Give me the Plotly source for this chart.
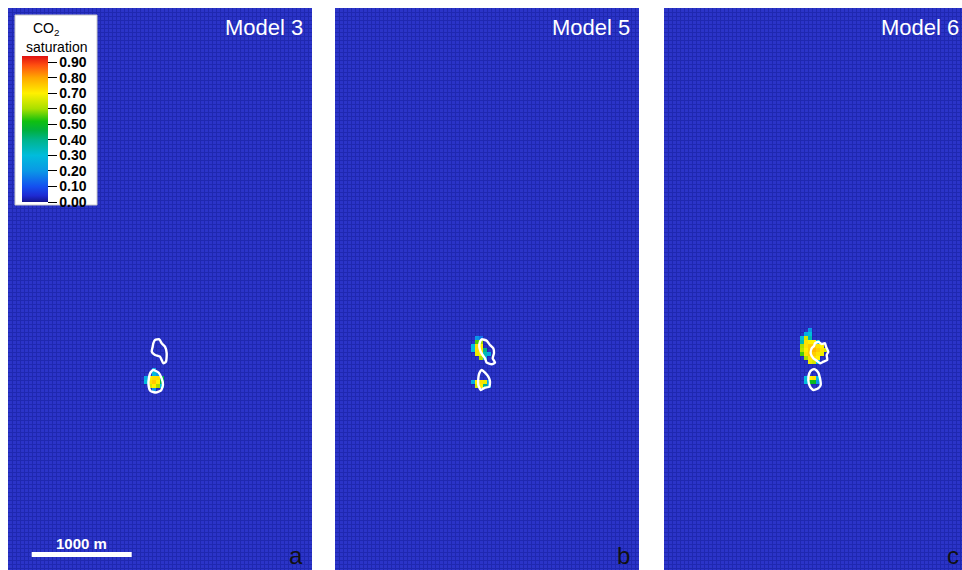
import numpy as np
import plotly.graph_objects as go

# ---------------- data ----------------
CELL_M = 40          # grid cell size (m)
N_COLS = 76
N_ROWS = 141

MODEL_NAMES = ["Model 3", "Model 5", "Model 6"]
PANEL_LETTERS = ["a", "b", "c"]

SAT_TICKS = [0.0, 0.1, 0.2, 0.3, 0.4, 0.5, 0.6, 0.7, 0.8, 0.9]
SAT_TICK_LABELS = ["0.00", "0.10", "0.20", "0.30", "0.40", "0.50", "0.60", "0.70", "0.80", "0.90"]
SAT_MIN = 0.0
SAT_MAX = 0.94

# plume cells: (row, col, CO2 saturation)
MODEL3_CELLS = [
    (90, 36, 0.25),
    (91, 36, 0.30), (91, 37, 0.20),
    (92, 34, 0.25), (92, 35, 0.70), (92, 36, 0.72), (92, 37, 0.72), (92, 38, 0.45),
    (93, 34, 0.30), (93, 35, 0.72), (93, 36, 0.75), (93, 37, 0.70), (93, 38, 0.45),
    (94, 35, 0.65), (94, 36, 0.70), (94, 37, 0.60), (94, 38, 0.30),
    (95, 36, 0.20),
]
MODEL5_CELLS = [
    (82, 35, 0.20), (82, 36, 0.15),
    (83, 35, 0.55), (83, 36, 0.60),
    (84, 34, 0.30), (84, 35, 0.72), (84, 36, 0.70),
    (85, 34, 0.30), (85, 35, 0.72), (85, 36, 0.72), (85, 37, 0.40),
    (86, 35, 0.68), (86, 36, 0.70), (86, 37, 0.35), (86, 38, 0.25),
    (87, 36, 0.60), (87, 37, 0.25),
    (93, 34, 0.25), (93, 35, 0.70), (93, 36, 0.72), (93, 37, 0.68), (93, 38, 0.25),
    (94, 35, 0.65), (94, 36, 0.70), (94, 37, 0.40), (94, 38, 0.20),
]
MODEL6_CELLS = [
    (80, 36, 0.20),
    (81, 35, 0.25), (81, 36, 0.30),
    (82, 34, 0.30), (82, 35, 0.65), (82, 36, 0.35),
    (83, 34, 0.35), (83, 35, 0.72), (83, 36, 0.70), (83, 37, 0.70), (83, 38, 0.30),
    (84, 34, 0.60), (84, 35, 0.72), (84, 36, 0.75), (84, 37, 0.75), (84, 38, 0.72), (84, 39, 0.70),
    (85, 34, 0.62), (85, 35, 0.70), (85, 36, 0.75), (85, 37, 0.78), (85, 38, 0.75), (85, 39, 0.72), (85, 40, 0.65),
    (86, 34, 0.55), (86, 35, 0.72), (86, 36, 0.75), (86, 37, 0.75), (86, 38, 0.72), (86, 39, 0.68),
    (87, 35, 0.60), (87, 36, 0.72), (87, 37, 0.72), (87, 38, 0.70),
    (88, 36, 0.68), (88, 37, 0.65), (88, 38, 0.30),
    (92, 35, 0.30), (92, 36, 0.70), (92, 37, 0.72), (92, 38, 0.30),
    (93, 35, 0.30), (93, 36, 0.50), (93, 37, 0.50), (93, 38, 0.20),
]

# white outlines (m)
M3_UP_X = [1470, 1513, 1537, 1570, 1587, 1580, 1553, 1520, 1470, 1437, 1447, 1453, 1470]
M3_UP_Y = [3320, 3313, 3353, 3387, 3453, 3537, 3553, 3487, 3470, 3437, 3387, 3353, 3320]
M3_LO_X = [1453, 1505, 1535, 1550, 1530, 1480, 1425, 1405, 1410, 1425, 1453]
M3_LO_Y = [3620, 3645, 3700, 3770, 3825, 3845, 3830, 3770, 3695, 3645, 3620]
M5_UP_X = [1467, 1517, 1550, 1583, 1590, 1577, 1600, 1567, 1517, 1500, 1483, 1457, 1443, 1450, 1467]
M5_UP_Y = [3313, 3327, 3370, 3403, 3453, 3503, 3547, 3563, 3547, 3503, 3480, 3437, 3387, 3337, 3313]
M5_LO_X = [1467, 1500, 1533, 1550, 1543, 1500, 1457, 1433, 1433, 1443, 1467]
M5_LO_Y = [3620, 3647, 3687, 3737, 3787, 3797, 3820, 3770, 3703, 3653, 3620]
M6_UP_X = [1510, 1543, 1577, 1610, 1620, 1643, 1627, 1633, 1593, 1560, 1527, 1493, 1467, 1477, 1500, 1510]
M6_UP_Y = [3353, 3337, 3360, 3353, 3387, 3437, 3470, 3520, 3537, 3553, 3527, 3503, 3453, 3403, 3380, 3353]
M6_LO_X = [1477, 1510, 1543, 1560, 1567, 1543, 1493, 1460, 1443, 1453, 1477]
M6_LO_Y = [3620, 3613, 3647, 3703, 3770, 3803, 3820, 3787, 3720, 3653, 3620]

SCALE_BAR_X0 = 237
SCALE_BAR_LEN = 1000
SCALE_BAR_LABEL = "1000 m"

# ---------------- styling / geometry ----------------
W, H = 962, 570
BG_BLUE = "#2b34c8"
GRID_BLUE = "#1f28b0"
FONT = "Arial, Liberation Sans, sans-serif"

PANEL_PX = [(8, 312), (335, 639), (664, 962)]
X_RANGES = [[0, 3040], [0, 3040], [0, 2980]]
Y_TOP_PX = 8

COLORSCALE_VALUES = [0.0, 0.04, 0.10, 0.20, 0.30, 0.40, 0.46, 0.52, 0.60, 0.70, 0.80, 0.88, 0.94]
COLORSCALE_COLORS = ["#14148c", "#1e2ad2", "#1450f0", "#0a98e6", "#00bcdc", "#00b48c",
                     "#00b040", "#10c010", "#a8e000", "#fff000", "#ffa800", "#ff5010", "#e01010"]
colorscale = [[(v - SAT_MIN) / (SAT_MAX - SAT_MIN), c] for v, c in zip(COLORSCALE_VALUES, COLORSCALE_COLORS)]

x_centers = [CELL_M * (i + 0.5) for i in range(N_COLS)]
y_centers = [CELL_M * (j + 0.5) for j in range(N_ROWS)]

def build_z(cells):
    z = np.full((N_ROWS, N_COLS), np.nan)
    for r, c, v in cells:
        z[r, c] = v
    return z

cells_all = [MODEL3_CELLS, MODEL5_CELLS, MODEL6_CELLS]
outlines = [
    [(M3_UP_X, M3_UP_Y), (M3_LO_X, M3_LO_Y)],
    [(M5_UP_X, M5_UP_Y), (M5_LO_X, M5_LO_Y)],
    [(M6_UP_X, M6_UP_Y), (M6_LO_X, M6_LO_Y)],
]

fig = go.Figure()
axis_suffix = ["", "2", "3"]
for k in range(3):
    xa = "x" + axis_suffix[k]
    ya = "y" + axis_suffix[k]
    fig.add_trace(go.Heatmap(
        x=x_centers, y=y_centers, z=build_z(cells_all[k]),
        coloraxis="coloraxis", xaxis=xa, yaxis=ya, hoverinfo="skip",
    ))
    for ox, oy in outlines[k]:
        fig.add_trace(go.Scatter(
            x=ox, y=oy, mode="lines", xaxis=xa, yaxis=ya,
            line=dict(color="white", width=2.4, shape="spline", smoothing=0.5),
            showlegend=False, hoverinfo="skip",
        ))

layout = dict(
    width=W, height=H,
    margin=dict(l=0, r=0, t=0, b=0, autoexpand=False),
    paper_bgcolor="white", plot_bgcolor=BG_BLUE,
    showlegend=False,
    font=dict(family=FONT),
)
y_domain = [0, 1 - Y_TOP_PX / H]
y_bottom_m = (H - Y_TOP_PX) * 10
for k in range(3):
    s = axis_suffix[k]
    x0, x1 = PANEL_PX[k]
    layout["xaxis" + s] = dict(
        domain=[x0 / W, min(x1 / W, 1)], range=X_RANGES[k], anchor="y" + s,
        showgrid=True, gridcolor=GRID_BLUE, gridwidth=1, tick0=0, dtick=CELL_M,
        showticklabels=False, ticks="", zeroline=False, showline=False, fixedrange=True,
    )
    layout["yaxis" + s] = dict(
        domain=y_domain, range=[y_bottom_m, 0], anchor="x" + s,
        showgrid=True, gridcolor=GRID_BLUE, gridwidth=1, tick0=0, dtick=CELL_M,
        showticklabels=False, ticks="", zeroline=False, showline=False, fixedrange=True,
    )

layout["coloraxis"] = dict(
    cmin=SAT_MIN, cmax=SAT_MAX, colorscale=colorscale,
    colorbar=dict(
        xref="container", yref="container",
        x=22 / W, xanchor="left", y=1 - 56 / H, yanchor="top",
        thickness=26, thicknessmode="pixels", len=146, lenmode="pixels",
        xpad=0, ypad=0, outlinewidth=0, bgcolor="rgba(0,0,0,0)",
        ticks="outside", ticklen=9, tickwidth=1, tickcolor="black",
        tickvals=SAT_TICKS, ticktext=SAT_TICK_LABELS,
        tickfont=dict(family=FONT, size=14, color="black", weight="bold"),
    ),
)

fig.update_layout(**layout)

# white legend box behind colorbar
fig.add_shape(type="rect", xref="paper", yref="paper",
              x0=15 / W, x1=97 / W, y0=1 - 205 / H, y1=1 - 15 / H,
              fillcolor="white", line=dict(color="#c8c8c8", width=1), layer="above")

annotations = []
annotations.append(dict(text="CO<sub>2</sub>", xref="paper", yref="paper", x=46 / W, y=1 - 29 / H,
                        showarrow=False, xanchor="center", yanchor="middle",
                        font=dict(family=FONT, size=14, color="black")))
annotations.append(dict(text="saturation", xref="paper", yref="paper", x=56 / W, y=1 - 47 / H,
                        showarrow=False, xanchor="center", yanchor="middle",
                        font=dict(family=FONT, size=14, color="black")))
for k in range(3):
    s = axis_suffix[k]
    annotations.append(dict(text=MODEL_NAMES[k], xref="x" + s, yref="y" + s, x=2970, y=190,
                            showarrow=False, xanchor="right", yanchor="middle",
                            font=dict(family=FONT, size=22, color="white")))
    annotations.append(dict(text=PANEL_LETTERS[k], xref="x" + s, yref="y" + s, x=2970, y=5470,
                            showarrow=False, xanchor="right", yanchor="middle",
                            font=dict(family=FONT, size=24, color="#111111")))

annotations.append(dict(text="<b>" + SCALE_BAR_LABEL + "</b>", xref="x", yref="y",
                        x=SCALE_BAR_X0 + SCALE_BAR_LEN / 2, y=5350,
                        showarrow=False, xanchor="center", yanchor="middle",
                        font=dict(family=FONT, size=15, color="white")))
fig.update_layout(annotations=annotations)

fig.add_shape(type="rect", xref="x", yref="y",
              x0=SCALE_BAR_X0, x1=SCALE_BAR_X0 + SCALE_BAR_LEN, y0=5440, y1=5490,
              fillcolor="white", line=dict(width=0), layer="above")

fig.write_html("out.html", config={"displayModeBar": False},
               post_script="document.body.style.margin='0px';document.body.style.overflow='hidden';")
